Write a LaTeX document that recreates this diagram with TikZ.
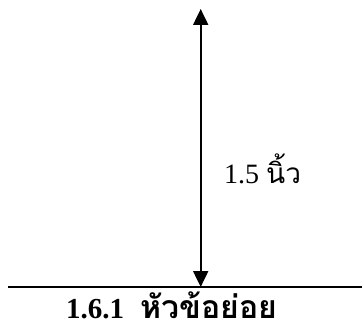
\documentclass[tikz,border=0pt]{standalone}
\usepackage{fontspec}
\setmainfont{Liberation Serif}
\newfontfamily\thaifont[Script=Thai]{Loma}
\usetikzlibrary{arrows.meta}
\tikzset{
  dimarrow/.style={line width=2pt,{Triangle[width=15pt,length=16pt]}-{Triangle[width=15pt,length=16pt]}},
  baseline rule/.style={line width=1.3pt},
  dimlabel/.style={inner sep=0pt,font=\fontsize{28}{32}\selectfont},
  headtext/.style={inner sep=0pt,text depth=0pt,font=\fontsize{29}{34}\selectfont\bfseries}
}
\begin{document}
\begin{tikzpicture}[x=1pt,y=-1pt]
\useasboundingbox (0,0) rectangle (362,321);
\coordinate (top) at (200.7,9);
\coordinate (bot) at (200.7,287);
\coordinate (L) at (8,287);
\coordinate (R) at (362,287);
\draw[baseline rule] (L) -- (R);
\draw[dimarrow] (top) -- (bot);
\node[dimlabel,anchor=base west] (lab) at (224,183) {1.5 {\thaifont\fontsize{28}{32}\selectfont นิ้ว}};
\node[headtext,anchor=base west] (head) at (66,318) {1.6.1\hspace{0.55em}{\thaifont\fontsize{32}{36}\selectfont หัวข้อย่อย}};
\end{tikzpicture}
\end{document}
